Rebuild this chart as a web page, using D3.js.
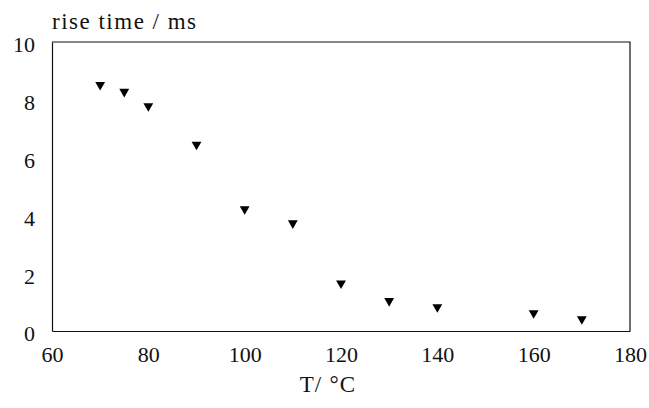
<!DOCTYPE html>
<html lang="en">
<head>
  <meta charset="UTF-8">
  <title>Rise time vs temperature</title>
  <script src="https://d3js.org/d3.v7.min.js"></script>
</head>
<body style="margin: 0; background: #fff;">
<div id="chart"></div>
<script>
  // data
  const temps = [70, 75, 80, 90, 100, 110, 120, 130, 140, 160, 170];
  const riseTimes = [8.52, 8.28, 7.78, 6.45, 4.22, 3.73, 1.65, 1.04, 0.83, 0.62, 0.41];
  const xTicks = [60, 80, 100, 120, 140, 160, 180];
  const yTicks = [0, 2, 4, 6, 8, 10];

  const width = 649, height = 408;
  const margin = { top: 42, right: 19, bottom: 77, left: 52 };
  const innerWidth = width - margin.left - margin.right;
  const innerHeight = height - margin.top - margin.bottom;
  const font = "'Liberation Serif', 'Times New Roman', serif";

  const svg = d3.select("#chart").append("svg")
    .attr("width", width)
    .attr("height", height)
    .style("display", "block")
    .style("font-family", font);

  const g = svg.append("g")
    .attr("transform", `translate(${margin.left},${margin.top})`);

  const x = d3.scaleLinear().domain([60, 180]).range([0, innerWidth]);
  const y = d3.scaleLinear().domain([0, 10]).range([innerHeight, 0]);

  // axes without tick marks
  const xAxis = g.append("g")
    .attr("transform", `translate(0,${innerHeight})`)
    .call(d3.axisBottom(x).tickValues(xTicks).tickSize(0).tickPadding(18));
  const yAxis = g.append("g")
    .call(d3.axisLeft(y).tickValues(yTicks).tickSize(0).tickPadding(17));

  [xAxis, yAxis].forEach(a => {
    a.select(".domain").attr("stroke", "#111").attr("stroke-width", 1.2);
    a.selectAll("text")
      .style("font-family", font)
      .style("font-size", "22px")
      .attr("fill", "#111");
  });
  yAxis.selectAll("text").attr("dy", "0.45em");
  xAxis.selectAll("text").attr("dy", "0.6em");

  // top and right frame
  g.append("path")
    .attr("d", `M0,0H${innerWidth}V${innerHeight}`)
    .attr("fill", "none")
    .attr("stroke", "#111")
    .attr("stroke-width", 1.2);

  // downward triangle markers
  const tri = d3.symbol().type(d3.symbolTriangle).size(42);
  g.selectAll(".pt")
    .data(temps.map((t, i) => ({ t, v: riseTimes[i] })))
    .enter().append("path")
    .attr("class", "pt")
    .attr("d", tri)
    .attr("transform", d => `translate(${x(d.t)},${y(d.v)}) rotate(180)`)
    .attr("fill", "#000");

  svg.append("text")
    .attr("x", 52)
    .attr("y", 29)
    .style("font-size", "23px")
    .style("letter-spacing", "1.5px")
    .attr("fill", "#111")
    .text("rise time / ms");

  svg.append("text")
    .attr("x", margin.left + x(120) - x(60) - 13)
    .attr("y", 392)
    .attr("text-anchor", "middle")
    .style("font-size", "23px")
    .style("letter-spacing", "1.2px")
    .attr("fill", "#111")
    .text("T/ °C");
</script>
</body>
</html>
